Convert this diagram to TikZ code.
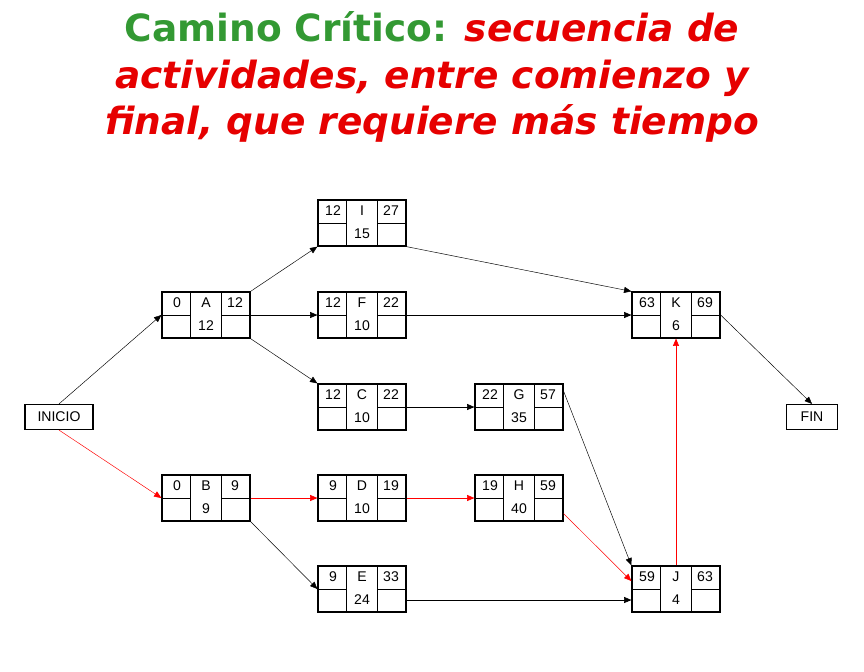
\documentclass[tikz,border=0pt]{standalone}
\usepackage{fontspec}
\setmainfont{Liberation Sans}
\newfontfamily\titlefont{DejaVu Sans}
\usetikzlibrary{arrows, positioning}
\definecolor{titlegreen}{RGB}{51,153,51}
\definecolor{titlered}{RGB}{230,0,0}

% one activity box: name, left, top, early start, letter, early finish, duration
\newcommand{\actbox}[7]{%
  \node[act] (#1) at (#2+44,#3+23) {};
  \draw[thin] ([xshift=29*0.03cm]#1.north west) -- ([xshift=29*0.03cm]#1.south west);
  \draw[thin] ([xshift=-29*0.03cm]#1.north east) -- ([xshift=-29*0.03cm]#1.south east);
  \draw[thin] (#1.west) -- ([xshift=29*0.03cm]#1.west);
  \draw[thin] (#1.east) -- ([xshift=-29*0.03cm]#1.east);
  \node[cell] at (#2+15,#3+11) {#4};
  \node[cell] at (#2+44,#3+11) {#5};
  \node[cell] at (#2+73,#3+11) {#6};
  \node[cell] at (#2+44,#3+34) {#7};
}

\begin{document}
\begin{tikzpicture}[
    x=0.03cm, y=-0.03cm,
    act/.style={rectangle, draw, line width=1.1pt, minimum width=2.64cm, minimum height=1.38cm, inner sep=0pt},
    cell/.style={inner sep=0pt, font=\fontsize{12}{13}\selectfont},
    term/.style={rectangle, draw, line width=1pt, minimum height=0.75cm, inner sep=0pt, font=\fontsize{12}{13}\selectfont},
    arrow/.style={-triangle 45, thin},
    crit/.style={-triangle 45, thin, red}
]
\useasboundingbox (0,0) rectangle (864,672);

% title
\node[font=\titlefont\bfseries\fontsize{32}{40}\selectfont, align=center, text=titlegreen] (title) at (432,77)
  {Camino Crítico: {\color{titlered}\itshape secuencia de}\\
   {\color{titlered}\itshape actividades, entre comienzo y}\\
   {\color{titlered}\itshape final, que requiere más tiempo}};

\node[term, minimum width=2.04cm] (inicio) at (59,417) {INICIO};
\node[term, minimum width=1.53cm] (fin) at (812,417) {FIN};

\actbox{I}{318}{200}{12}{I}{27}{15}
\actbox{A}{162}{292}{0}{A}{12}{12}
\actbox{F}{318}{292}{12}{F}{22}{10}
\actbox{K}{632}{292}{63}{K}{69}{6}
\actbox{C}{318}{384}{12}{C}{22}{10}
\actbox{G}{475}{384}{22}{G}{57}{35}
\actbox{B}{162}{475}{0}{B}{9}{9}
\actbox{D}{318}{475}{9}{D}{19}{10}
\actbox{H}{475}{475}{19}{H}{59}{40}
\actbox{E}{318}{566}{9}{E}{33}{24}
\actbox{J}{632}{566}{59}{J}{63}{4}

\draw[arrow] (inicio.north) -- (A.west);
\draw[crit] (inicio.south) -- (B.west);
\draw[arrow] (A.north east) -- (I.south west);
\draw[arrow] (A.east) -- (F.west);
\draw[arrow] (A.south east) -- (C.north west);
\draw[arrow] (I.south east) -- (K.north west);
\draw[arrow] (F.east) -- (K.west);
\draw[arrow] (C.east) -- (G.west);
\draw[arrow] ([yshift=-0.24cm]G.north east) -- (J.north west);
\draw[crit] (B.east) -- (D.west);
\draw[crit] (D.east) -- (H.west);
\draw[crit] ([yshift=0.24cm]H.south east) -- ([yshift=0.24cm]J.west);
\draw[arrow] (B.south east) -- (E.west);
\draw[arrow] ([yshift=-0.33cm]E.east) -- ([yshift=-0.33cm]J.west);
\draw[crit] (J.north) -- (K.south);
\draw[arrow] (K.east) -- (fin.north);
\end{tikzpicture}
\end{document}
